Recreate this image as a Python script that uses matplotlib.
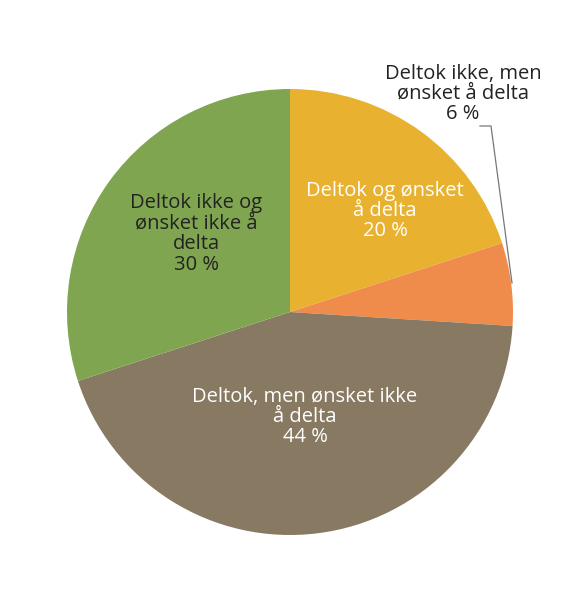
import matplotlib
matplotlib.use("Agg")
import matplotlib.pyplot as plt

labels = ["Deltok og ønsket\nå delta", "Deltok ikke, men\nønsket å delta",
          "Deltok, men ønsket ikke\nå delta", "Deltok ikke og\nønsket ikke å\ndelta"]
values = [20, 6, 44, 30]
colors = ["#E8B230", "#F08C4B", "#887A62", "#80A550"]
text_colors = ["white", "#222222", "white", "#222222"]

plt.rcParams['font.family'] = ['Open Sans', 'DejaVu Sans']

W, H = 580, 595
fig = plt.figure(figsize=(W / 100, H / 100), dpi=100)
ax = fig.add_axes([0, 0, 1, 1])
cx, cy, R = 290, 312, 223

def d(px, py):
    return ((px - cx) / R, (cy - py) / R)

ax.pie(values, colors=colors, startangle=90, counterclock=False, radius=1,
       wedgeprops=dict(linewidth=0))
ax.set_xlim(-cx / R, (W - cx) / R)
ax.set_ylim(-(H - cy) / R, cy / R)
ax.set_aspect('equal')
ax.axis('off')

fs = 14.5
pos = [d(385, 211), d(463, 94), d(305, 417), d(196, 234)]
for lab, v, p, tc in zip(labels, values, pos, text_colors):
    ax.text(p[0], p[1], f"{lab}\n{v} %", ha='center', va='center',
            color=tc, fontsize=fs, linespacing=1.03)

# leader line for small slice
x0, y0 = d(480, 126)
x1, y1 = d(491, 126)
x2, y2 = d(512, 283)
ax.plot([x0, x1, x2], [y0, y1, y2], color="#777777", lw=0.9)

fig.savefig("out.png", dpi=100)
